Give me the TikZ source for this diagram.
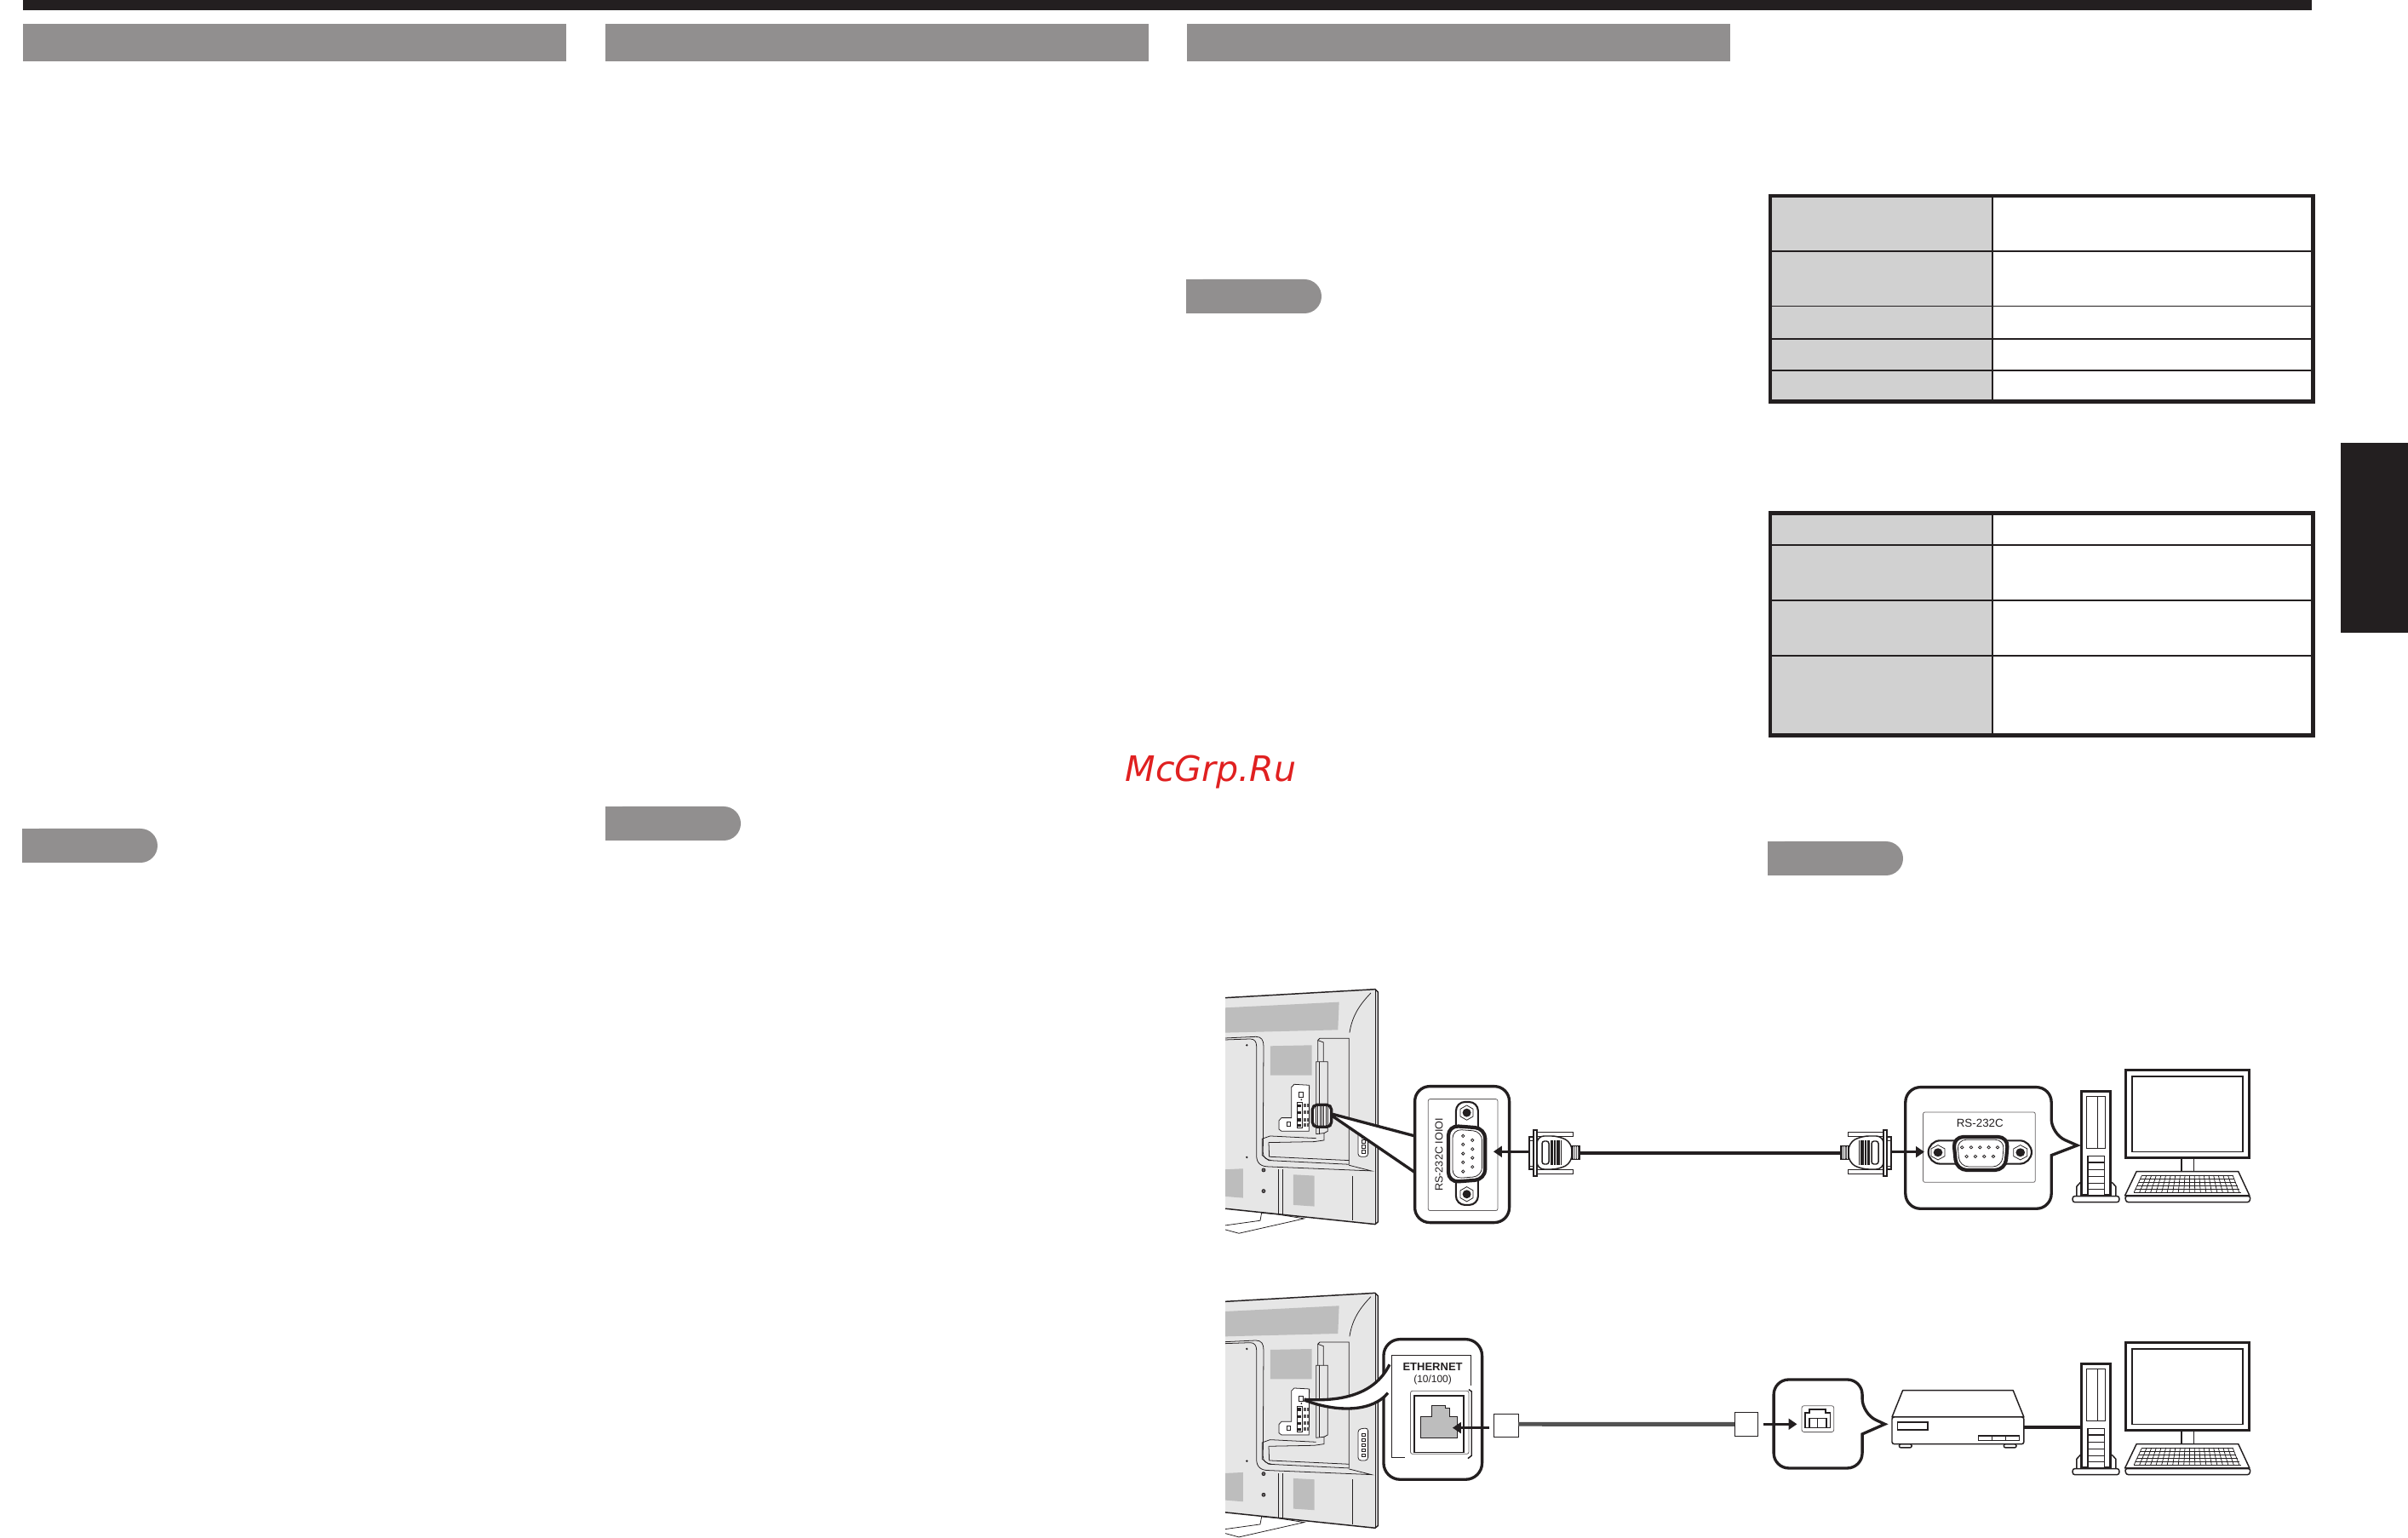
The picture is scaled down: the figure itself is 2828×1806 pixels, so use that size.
\documentclass[tikz,border=0pt]{standalone}
\usepackage{fontspec}
\setmainfont{Liberation Sans}
\newfontfamily\markfont{DejaVu Sans}
\usetikzlibrary{arrows.meta,calc,positioning}

\definecolor{inkblack}{HTML}{231F20}
\definecolor{headgray}{HTML}{918F8F}
\definecolor{cellgray}{HTML}{D1D1D1}
\definecolor{tvgray}{HTML}{E6E6E6}
\definecolor{padgray}{HTML}{BDBDBD}
\definecolor{markred}{HTML}{E02020}

\tikzset{
	thinline/.style={draw=inkblack,line width=0.22pt},
	midline/.style={draw=inkblack,line width=0.42pt},
	heavyline/.style={draw=inkblack,line width=0.95pt},
	padfill/.style={fill=padgray,draw=none},
	callout/.style={draw=inkblack,fill=white,line width=0.95pt,line join=miter},
	feedline/.style={draw=inkblack,line width=0.85pt,-{Triangle[length=2.8pt,width=3.6pt]}},
	gridrule/.style={draw=inkblack,line width=0.55pt},
	portlabel/.style={inner sep=0pt,text=inkblack,font=\fontsize{3.8}{4.4}\selectfont},
}

% rear of the set, written in 3x crop units
\newcommand{\tvrear}{
	\fill[tvgray] (117,95)--(645,65)--(655,75)--(655,885)--(645,893)--(117,838)--cycle;
	\fill[padgray] (117,130)--(518,110)--(514,208)--(117,218)--cycle;
	\fill[padgray] (276,265)--(422,262)--(422,368)--(276,368)--cycle;
	\fill[padgray] (117,700)--(180,697)--(180,800)--(117,795)--cycle;
	\fill[padgray] (357,718)--(431,722)--(431,830)--(357,825)--cycle;
	\draw[fill=white,thinline] (117,897)--(240,880)--(245,853)--(300,858)--(395,873)--(165,925)--(117,912);
	\draw[midline] (117,95)--(645,65)--(655,75)--(655,885)--(645,893)--(117,838);
	\draw[thinline] (645,65)--(645,893);
	\draw[thinline] (555,218) .. controls (565,150) and (600,110) .. (630,78);
	\draw[thinline] (117,237)--(225,232) .. controls (245,232) and (252,245) .. (252,265)--(250,640) .. controls (250,660) and (262,665) .. (280,668);
	\draw[thinline] (117,243)--(205,240) .. controls (220,240) and (227,250) .. (227,265)--(227,650) .. controls (227,680) and (245,690) .. (270,690)--(632,705)--(553,685);
	\draw[thinline] (443,320)--(443,245)--(450,238)--(553,238)--(553,682)--(270,668)--(247,650)--(247,592)--(275,582)--(437,590);
	\draw[thinline] (463,320)--(463,252)--(443,245);
	\draw[thinline] (270,605)--(272,655)--(553,668);
	\draw[thinline] (270,605)--(430,602)--(465,597)--(465,570);
	\draw[thinline] (437,320)--(478,320)--(478,565)--(465,572)--(437,575)--cycle;
	\draw[thinline] (447,320)--(447,575);
	\fill[white] (352,402) rectangle (412,563);
	\fill[white] (308,520) rectangle (352,563);
	\draw[thinline] (413,403)--(360,400)--(350,410)--(350,518)--(315,518)--(306,528)--(306,558)--(315,565)--(412,565)--(413,403);
	\draw[thinline] (377,428)--(392,428)--(392,446)--(377,446)--cycle;
	\draw[thinline] (333,533) rectangle (347,547);
	\draw[thinline] (371,464) rectangle (387,553);
	\foreach \py in {475,500,525,545} {
		\fill[inkblack] (373,\py-5) rectangle (385,\py+5);
		\fill[inkblack!75] (393,\py-7) rectangle (401,\py+5);
		\fill[inkblack!75] (404,\py-7) rectangle (412,\py+5);
	}
	\fill[inkblack] (385,454) circle [radius=3];
	\foreach \px/\py in {193/262,193/657} \fill[inkblack] (\px,\py) circle [radius=4];
	\foreach \px/\py in {252/702,252/776} \draw[thinline,fill=inkblack!70] (\px,\py) circle [radius=6];
	\draw[thinline] (303,700)--(303,857);
	\draw[thinline] (320,700)--(320,858);
	\draw[thinline] (565,722)--(565,880);
	\draw[thinline,fill=white,rounded corners=1pt] (585,545)--(620,540)--(620,655)--(585,655)--cycle;
	\foreach \py in {560,578,596,614,632} \draw[thinline] (597,\py) rectangle (610,\py+10);
}

% tower, monitor and keyboard
\newcommand{\pcset}{
	\draw[heavyline,fill=white] (908,155) rectangle (1005,522);
	\draw[midline] (926,172) rectangle (988,356);
	\draw[midline] (962,172)--(962,356);
	\draw[midline,fill=white] (930,382) rectangle (985,522);
	\foreach \py in {405,430,455,478,500} \draw[midline] (930,\py)--(985,\py);
	\draw[midline] (893,522)--(893,490)--(905,476)--(908,476);
	\draw[midline] (1022,522)--(1022,490)--(1010,476)--(1005,476);
	\draw[midline,fill=white,rounded corners=0.7pt] (880,524) rectangle (1033,545);
	\draw[heavyline,fill=white] (1055,80) rectangle (1460,388);
	\draw[midline] (1075,102) rectangle (1440,368);
	\draw[midline] (1238,388)--(1238,437);
	\draw[midline] (1278,388)--(1278,437);
	\draw[midline,fill=white,line join=round] (1090,437)--(1425,437)--(1462,522)--(1052,522)--cycle;
	\draw[midline,fill=white,rounded corners=0.7pt] (1052,524)--(1465,524)--(1462,545)--(1056,545)--cycle;
	\foreach \k in {0,...,19} \draw[thinline] ({1108+\k*15.7},450)--({1082+\k*18.2},510);
	\foreach \j in {0,...,5} \draw[thinline] ({1108-\j*5.2},{450+\j*12})--({1407+\j*5.6},{450+\j*12});
}

% nine pin plug, flange at the origin, in pixels
\newcommand{\dbplug}{
	\draw[midline,fill=white] (-7,-19) rectangle (2,19);
	\draw[thinline] (-7,-15)--(2,-15);
	\draw[thinline] (-7,15)--(2,15);
	\draw[thinline,fill=white] (2,-25) rectangle (44,-20);
	\draw[thinline,fill=white] (2,19) rectangle (44,24);
	\draw[midline,fill=white,rounded corners=2.4pt] (2,-20)--(28,-20)--(43,-12)--(43,11)--(28,19)--(2,19)--cycle;
	\draw[midline,rounded corners=0.8pt] (8,-14) rectangle (16,13);
	\foreach \k in {0,...,7} \draw[inkblack,line width=0.3pt] (19+\k*1.6,-15)--(19+\k*1.6,14);
	\draw[midline,fill=inkblack!70] (43,-8) rectangle (52,7);
	\foreach \k in {0,1,2} \draw[white,line width=0.2pt] (45+\k*2.4,-8)--(45+\k*2.4,7);
	\draw[midline,fill=white] (-2,-27) rectangle (2,27);
}

\newcommand{\hexnut}[2]{
	\draw[thinline,fill=white] (#1,#2) +(30:26) -- +(90:26) -- +(150:26) -- +(210:26) -- +(270:26) -- +(330:26) -- cycle;
	\fill[inkblack] (#1,#2) circle [radius=15];
}

\newcommand{\pillbar}[2]{
	\fill[headgray,rounded corners=5.7pt] (#1,#2) rectangle ({#1+159},{#2+40});
	\fill[headgray] (#1,#2) rectangle ({#1+40},{#2+40});
}

\begin{document}
\begin{tikzpicture}[x=0.1mm,y=-0.1mm]
	\useasboundingbox (0,0) rectangle (2828,1806);

	\fill[inkblack] (27,0) rectangle (2715,12); %top edge
	\fill[inkblack] (2749,520) rectangle (2828,743);
	\foreach \bx in {27,711,1394} \fill[headgray] (\bx,28) rectangle (\bx+638,72);
	\pillbar{26}{973}
	\pillbar{711}{947}
	\pillbar{1393}{328}
	\pillbar{2076}{988}

	\node[inner sep=0pt,anchor=base west,text=markred,font=\markfont\itshape\fontsize{11.7}{12}\selectfont] (mark) at (1321,918) {McGrp.Ru};

	% first table
	\fill[cellgray] (2079,230) rectangle (2340,471);
	\foreach \ry in {295,359.5,398,435} \draw[gridrule] (2079,\ry)--(2716,\ry);
	\draw[gridrule] (2340,230)--(2340,471);
	\draw[draw=inkblack,line width=1.2pt] (2079,230) rectangle (2716.5,471.5);

	% second table
	\fill[cellgray] (2079,602) rectangle (2340,863);
	\foreach \ry in {639.7,705,770} \draw[gridrule] (2079,\ry)--(2716,\ry);
	\draw[gridrule] (2340,602)--(2340,863);
	\draw[draw=inkblack,line width=1.2pt] (2079,602.5) rectangle (2716.5,863.5);

	% upper row, set side
	\begin{scope}[shift={(1400,1140)},x=0.03333mm,y=-0.03333mm]
		\tvrear
		\fill[white] (495,505)--(785,580)--(785,715)--(495,515)--cycle;
		\draw[midline,line width=0.95pt] (495,505)--(785,582);
		\draw[midline,line width=0.95pt] (495,512)--(785,710);
		\draw[heavyline,fill=white,rounded corners=1.6pt] (424,472) rectangle (491,550);
		\foreach \k in {0,...,6} \draw[thinline] (436+\k*7,474)--(436+\k*7,548);
		\draw[callout,rounded corners=5pt] (785,407) rectangle (1118,887);
		\draw[thinline,draw=inkblack!70,rounded corners=0.6pt] (832,452) rectangle (1077,845);
		\node[portlabel,rotate=90,font=\fontsize{3.6}{4.4}\selectfont] (tvName) at (870,648) {RS-232C IOIOI};
		\draw[midline,line width=0.6pt,fill=white,rounded corners=3pt] (930,462) rectangle (1008,825);
		\hexnut{968}{500}
		\hexnut{968}{787}
		\draw[draw=inkblack,line width=1.2pt,fill=white,rounded corners=3.4pt] (903,545)--(1033,555)--(1033,735)--(903,745)--cycle;
		\draw[thinline,rounded corners=3pt] (918,558)--(1022,566)--(1022,724)--(918,732)--cycle;
		\foreach \py in {582,612,644,675,707} \draw[thinline] (955,\py) circle [radius=5];
		\foreach \py in {597,628,659,691} \draw[thinline] (988,\py) circle [radius=5];
		\coordinate (TvJack) at (1062,637);
		\coordinate (TvFeed) at (1188,637);
		\draw[feedline] (TvFeed)--(TvJack);
	\end{scope}

	% upper row, computer side
	\begin{scope}[shift={(2120,1230)},x=0.03571mm,y=-0.03333mm]
		\draw[callout,rounded corners=5pt] (570,140)--(810,140)--(810,305)[sharp corners]--(895,345)--(810,380)[rounded corners=5pt]--(810,568)--(330,568)--(330,140)--cycle;
		\draw[thinline,draw=inkblack!70,rounded corners=0.6pt] (388,228) rectangle (757,475);
		\node[portlabel] (pcName) at (575,268) {RS-232C};
		\draw[midline,line width=0.6pt,fill=white,rounded corners=4pt] (405,328) rectangle (745,410);
		\hexnut{437}{370}
		\hexnut{708}{370}
		\draw[draw=inkblack,line width=1.2pt,fill=white,rounded corners=3.4pt] (487,315)--(668,315)--(658,432)--(498,432)--cycle;
		\draw[thinline,rounded corners=3pt] (500,325)--(655,325)--(647,420)--(508,420)--cycle;
		\foreach \px in {516,546,575,604,633} \draw[thinline] (\px,352) circle [radius=5];
		\foreach \px in {531,560,589,619} \draw[thinline] (\px,384) circle [radius=5];
		\coordinate (PcFeed) at (280,368);
		\coordinate (PcJack) at (392,368);
		\draw[feedline] (PcFeed)--(PcJack);
		\pcset
	\end{scope}

	% plugs and their cable
	\coordinate (CableTv) at (1855,1354);
	\coordinate (CablePc) at (2162,1354);
	\draw[draw=inkblack,line width=0.95pt] (CableTv)--(CablePc);
	\begin{scope}[shift={(1803,1354)}]
		\dbplug
	\end{scope}
	\begin{scope}[shift={(2214,1354)},xscale=-1]
		\dbplug
	\end{scope}

	% lower row, set side
	\begin{scope}[shift={(1400,1496.67)},x=0.03333mm,y=-0.03333mm]
		\tvrear
	\end{scope}
	\begin{scope}[shift={(1400,1490)},x=0.03333mm,y=-0.03333mm]
		\draw[callout,rounded corners=5.5pt] (675,248) rectangle (1022,742);
		\fill[white] (397,461) .. controls (550,470) and (650,430) .. (698,335)--(710,335)--(710,440)--(692,437) .. controls (640,500) and (520,510) .. (397,461)--cycle;
		\draw[heavyline] (395,460) .. controls (550,470) and (650,430) .. (696,337);
		\draw[heavyline] (395,462) .. controls (520,510) and (640,500) .. (690,437);
		\draw[midline] (750,665)--(703,665)--(703,305)--(983,305)--(983,410);
		\node[portlabel,font=\bfseries\fontsize{3.7}{4.2}\selectfont] (ethName) at (848,345) {ETHERNET};
		\node[portlabel,font=\fontsize{3.4}{4}\selectfont,below=1.1pt of ethName] (ethSpeed) {(10/100)};
		\draw[thinline,draw=inkblack!70,rounded corners=0.6pt] (770,430) rectangle (975,652);
		\draw[midline] (783,447) rectangle (957,647);
		\draw[thinline,fill=padgray] (805,595)--(805,520)--(845,520)--(845,482)--(893,482)--(893,490)--(908,490)--(908,520)--(935,520)--(935,595)--cycle;
		\draw[midline] (975,425)--(985,432)--(985,658)--(972,668);
		\node[draw=inkblack,fill=white,line width=0.3pt,inner sep=0pt,minimum width=8.2pt,minimum height=7.5pt] (ethPlugTv) at (1107,552) {};
		\coordinate (EthCableTv) at (1150,547);
		\coordinate (EthJack) at (918,560);
		\coordinate (EthFeed) at (1048,560);
		\draw[feedline] (EthFeed)--(EthJack);
	\end{scope}

	% lower row, computer side
	\begin{scope}[shift={(2020,1550)},x=0.04209mm,y=-0.03333mm]
		\draw[callout,rounded corners=5pt] (270,210)--(397,210)--(397,330)[sharp corners]--(460,367)--(397,402)[rounded corners=5pt]--(397,522)--(150,522)--(150,210)--cycle;
		\node[draw=inkblack,fill=white,line width=0.3pt,inner sep=0pt,minimum width=7.6pt,minimum height=8pt] (ethPlugPc) at (73,367) {};
		\coordinate (RjFeed) at (120,367);
		\coordinate (RjJack) at (215,367);
		\draw[feedline] (RjFeed)--(RjJack);
		\draw[thinline,draw=inkblack!70,fill=white,rounded corners=0.8pt] (228,302) rectangle (318,395);
		\draw[midline] (238,380)--(238,327)--(250,327)--(250,315)--(295,315)--(295,327)--(308,327)--(308,380)--cycle;
		\draw[thinline] (248,345)--(298,345);
		\foreach \px in {250,272,297} \draw[midline] (\px,345)--(\px,380);
		\draw[midline,fill=white,rounded corners=0.6pt] (500,437) rectangle (535,450);
		\draw[midline,fill=white,rounded corners=0.6pt] (792,437) rectangle (827,450);
		\draw[midline,fill=white,line join=round] (510,248)--(818,248)--(848,342)--(480,342)--cycle;
		\draw[midline,fill=white,rounded corners=0.7pt] (480,342) rectangle (848,437);
		\draw[midline] (495,360) rectangle (580,387);
		\draw[thinline,line width=0.35pt] (722,408) rectangle (835,425);
		\foreach \px in {760,798} \draw[thinline] (\px,408)--(\px,425);
		\coordinate (RouterOut) at (848,378);
		\coordinate (TowerIn) at (1008,378);
		\draw[heavyline] (RouterOut)--(TowerIn);
	\end{scope}
	\draw[draw=black!68,line width=1.4pt] (EthCableTv)--(ethPlugPc.west);

	\begin{scope}[shift={(2120,1550)},x=0.03571mm,y=-0.03333mm]
		\pcset
	\end{scope}
\end{tikzpicture}
\end{document}
